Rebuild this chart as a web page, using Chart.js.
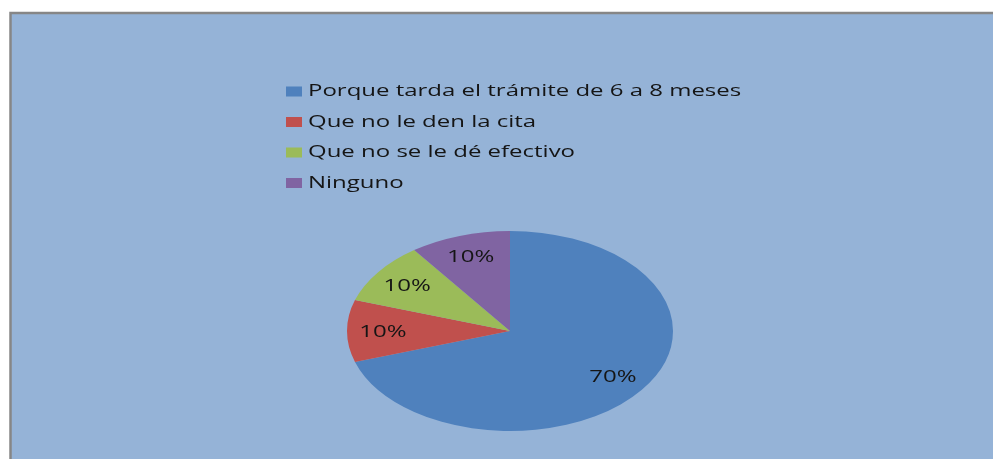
<!DOCTYPE html>
<html>
<head>
<meta charset="utf-8">
<script src="https://cdn.jsdelivr.net/npm/chart.js@4/dist/chart.umd.min.js"></script>
<style>
html,body{margin:0;padding:0;background:#ffffff;}
canvas{display:block;}
</style>
</head>
<body>
<canvas id="c" width="993" height="459"></canvas>
<script>
const categories = [
  'Porque tarda el trámite de 6 a 8 meses',
  'Que no le den la cita',
  'Que no se le dé efectivo',
  'Ninguno'
];
const values = [70, 10, 10, 10];
const percentLabels = ['70%', '10%', '10%', '10%'];
const colors = ['#4F81BD', '#C0504D', '#9BBB59', '#8064A2'];

const PIE_SX = 1.63;     // horizontal stretch of the pie
const LEGEND_SX = 1.41;  // horizontal stretch of legend text
const LABEL_SX = 1.5;    // horizontal stretch of percentage labels
const FONT = '"Open Sans", "Noto Sans", sans-serif';

const backgroundPlugin = {
  id: 'bgbox',
  beforeDraw(chart) {
    const ctx = chart.ctx;
    ctx.save();
    ctx.fillStyle = '#ffffff';
    ctx.fillRect(0, 0, chart.width, chart.height);
    ctx.fillStyle = '#95B3D7';
    ctx.fillRect(10, 12, chart.width - 10, chart.height - 12);
    ctx.strokeStyle = '#868686';
    ctx.lineWidth = 2.5;
    ctx.beginPath();
    ctx.moveTo(10.5, chart.height + 5);
    ctx.lineTo(10.5, 13);
    ctx.lineTo(chart.width + 5, 13);
    ctx.stroke();
    ctx.restore();
  }
};

const stretchPlugin = {
  id: 'stretch',
  beforeDatasetsDraw(chart) {
    const arc = chart.getDatasetMeta(0).data[0];
    const ctx = chart.ctx;
    ctx.save();
    ctx.translate(arc.x, arc.y);
    ctx.scale(PIE_SX, 1);
    ctx.translate(-arc.x, -arc.y);
  },
  afterDatasetsDraw(chart) {
    const ctx = chart.ctx;
    ctx.restore();
    const meta = chart.getDatasetMeta(0);
    ctx.save();
    ctx.font = '16px ' + FONT;
    ctx.fillStyle = '#151515';
    ctx.textAlign = 'center';
    ctx.textBaseline = 'middle';
    meta.data.forEach((arc, i) => {
      const mid = (arc.startAngle + arc.endAngle) / 2;
      const r = arc.outerRadius * 0.78;
      const px = arc.x + Math.cos(mid) * r * PIE_SX;
      const py = arc.y + Math.sin(mid) * r;
      ctx.save();
      ctx.translate(px, py);
      ctx.scale(LABEL_SX, 1);
      ctx.fillText(percentLabels[i], 0, 1);
      ctx.restore();
    });
    ctx.restore();
  }
};

const legendPlugin = {
  id: 'vlegend',
  afterDraw(chart) {
    const ctx = chart.ctx;
    const x0 = 286, y0 = 91.5, step = 30.5;
    ctx.save();
    ctx.font = '17px ' + FONT;
    ctx.textBaseline = 'middle';
    ctx.textAlign = 'left';
    chart.data.labels.forEach((lab, i) => {
      const y = y0 + i * step;
      ctx.fillStyle = chart.data.datasets[0].backgroundColor[i];
      ctx.fillRect(x0, y - 5, 16, 10);
      ctx.fillStyle = '#151515';
      ctx.save();
      ctx.translate(x0 + 22, y);
      ctx.scale(LEGEND_SX, 1);
      ctx.fillText(lab, 0, 0);
      ctx.restore();
    });
    ctx.restore();
  }
};

new Chart(document.getElementById('c'), {
  type: 'pie',
  data: {
    labels: categories,
    datasets: [{
      data: values,
      backgroundColor: colors,
      borderWidth: 0
    }]
  },
  options: {
    responsive: false,
    animation: false,
    devicePixelRatio: 1,
    layout: { padding: { top: 231, bottom: 28, left: 27, right: 0 } },
    plugins: {
      legend: { display: false },
      tooltip: { enabled: false }
    }
  },
  plugins: [backgroundPlugin, stretchPlugin, legendPlugin]
});
</script>
</body>
</html>
